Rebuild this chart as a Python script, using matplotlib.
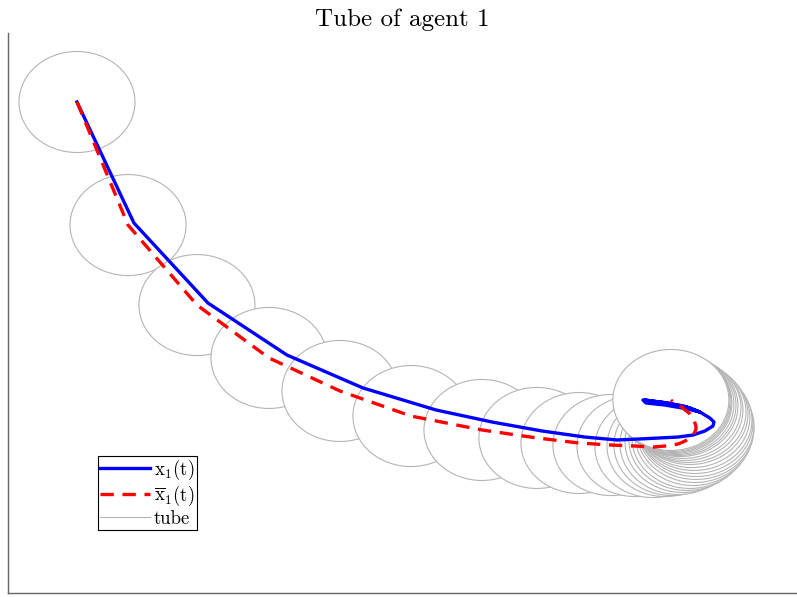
import matplotlib
matplotlib.use('Agg')
import matplotlib.pyplot as plt
from matplotlib.patches import Circle
from matplotlib.lines import Line2D

plt.rcParams['font.family'] = 'serif'
plt.rcParams['font.serif'] = ['cmr10']
plt.rcParams['mathtext.fontset'] = 'cm'
plt.rcParams['axes.unicode_minus'] = False

# nominal trajectory (tube centres)
xbar_x = [0.0, 0.440, 1.034, 1.655, 2.267, 2.879, 3.491, 3.965, 4.327, 4.603,
          4.810, 4.965, 5.069, 5.129, 5.181, 5.224, 5.258, 5.284, 5.310, 5.327,
          5.336, 5.336, 5.327, 5.319, 5.301, 5.284, 5.267, 5.241, 5.224, 5.198,
          5.181, 5.163, 5.146, 5.138, 5.129, 5.120]
xbar_y = [0.0, -1.218, -2.010, -2.534, -2.861, -3.109, -3.247, -3.326, -3.376, -3.396,
          -3.406, -3.416, -3.406, -3.396, -3.386, -3.366, -3.346, -3.326, -3.297, -3.267,
          -3.237, -3.208, -3.178, -3.148, -3.119, -3.089, -3.069, -3.049, -3.029, -3.010,
          -3.000, -2.990, -2.980, -2.970, -2.960, -2.950]

# actual trajectory
x_x = [0.0, 0.491, 1.129, 1.810, 2.465, 3.095, 3.577, 4.008, 4.379, 4.655,
       4.853, 5.025, 5.181, 5.310, 5.413, 5.482, 5.491, 5.456, 5.370, 5.241,
       5.094, 4.957, 4.879, 4.905, 5.069, 5.267, 5.370, 5.284, 5.069, 4.896,
       4.982, 5.198, 5.344, 5.232, 5.025, 4.922, 5.094, 5.284, 5.155, 5.025]
x_y = [0.0, -1.198, -1.990, -2.505, -2.831, -3.049, -3.168, -3.257, -3.317, -3.346,
       -3.336, -3.326, -3.317, -3.297, -3.257, -3.208, -3.168, -3.129, -3.069, -3.020,
       -2.980, -2.960, -2.950, -2.980, -3.000, -3.040, -3.069, -3.029, -2.980, -2.950,
       -2.980, -3.010, -3.059, -3.010, -2.970, -2.960, -2.990, -3.029, -3.000, -2.980]

tube_radius = 0.5

fig = plt.figure(figsize=(7.97, 5.97), dpi=100)
ax = fig.add_axes([0.010, 0.0067, 0.990, 0.938])

for cx, cy in zip(xbar_x, xbar_y):
    ax.add_patch(Circle((cx, cy), tube_radius, facecolor='white',
                        edgecolor='#b4b4b4', linewidth=0.8, zorder=1))

ax.plot(x_x, x_y, color='blue', linewidth=2.4, zorder=3)
ax.plot(xbar_x, xbar_y, color='red', linewidth=2.4, linestyle=(0, (4, 2.6)), zorder=4)

ax.set_xlim(-0.595, 6.207)
ax.set_ylim(-4.861, 0.683)
ax.set_xticks([])
ax.set_yticks([])
for side in ['top', 'right']:
    ax.spines[side].set_visible(False)
for side in ['left', 'bottom']:
    ax.spines[side].set_color('#666666')
    ax.spines[side].set_linewidth(1.0)

ax.set_title('Tube of agent 1', fontsize=18, pad=5)

handles = [Line2D([], [], color='blue', linewidth=2.4),
           Line2D([], [], color='red', linewidth=2.4, linestyle=(0, (4, 2.6))),
           Line2D([], [], color='#b4b4b4', linewidth=0.8)]
labels = [r'$\mathrm{x}_1(\mathrm{t})$', r'$\overline{\mathrm{x}}_1(\mathrm{t})$', 'tube']
leg = ax.legend(handles, labels, loc='lower left', bbox_to_anchor=(0.114, 0.1125),
                borderaxespad=0, fontsize=13.5, handlelength=2.67, handletextpad=0.2,
                borderpad=0.12, labelspacing=0.1, fancybox=False, framealpha=1)
leg.get_frame().set_edgecolor('black')
leg.get_frame().set_linewidth(0.8)

fig.savefig('out.png', dpi=100)
